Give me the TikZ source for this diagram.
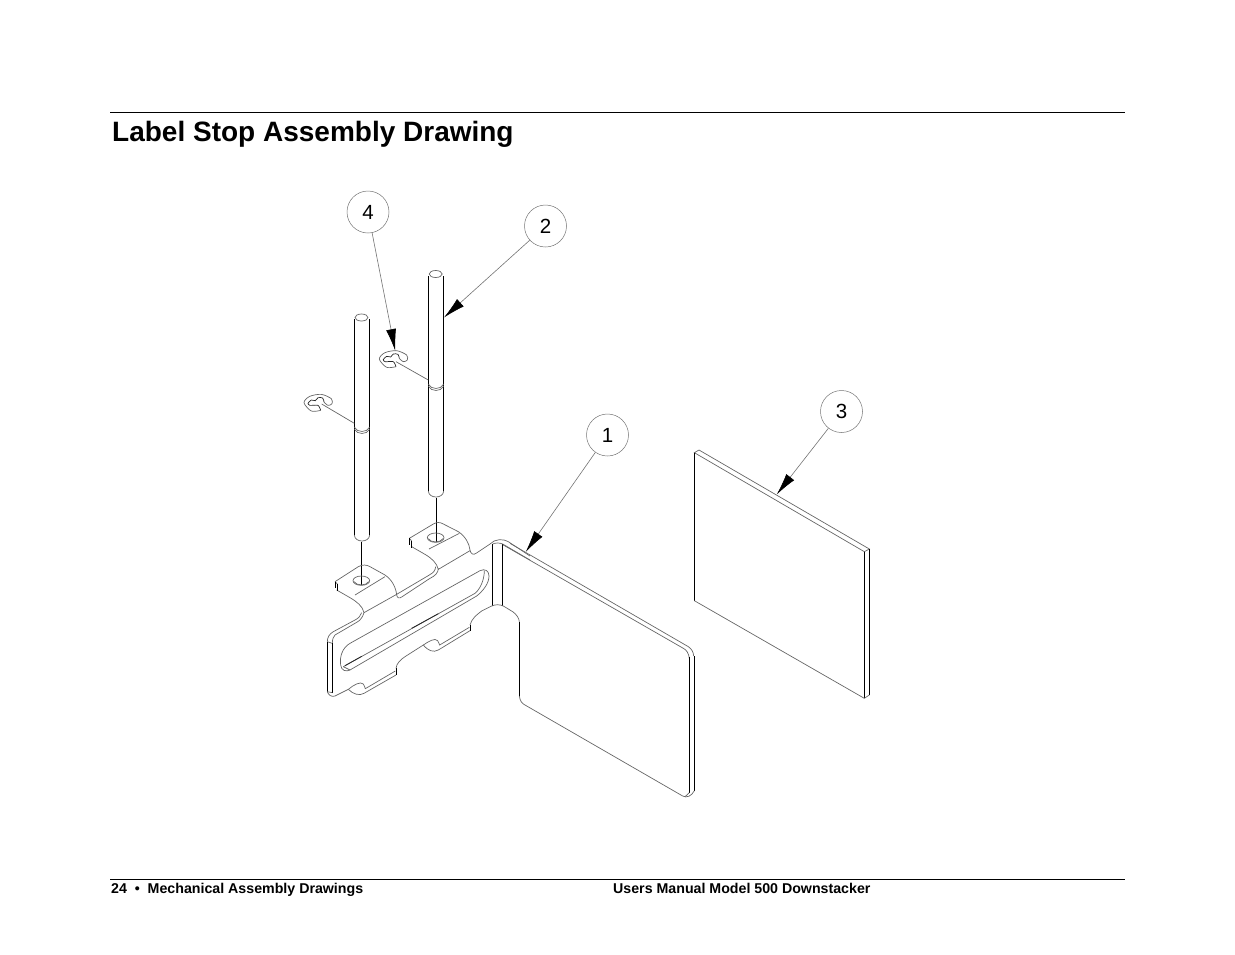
\documentclass[tikz,border=0pt]{standalone}
\usepackage{fontspec}
\setmainfont{Liberation Sans}
\usetikzlibrary{arrows.meta}
\begin{document}
\begin{tikzpicture}
        [x=1pt, y=-1pt,
        balloon/.style={circle,draw=black!55,line width=0.5pt,minimum size=42pt,inner sep=0pt,font=\fontsize{20.5}{20.5}\selectfont},
        leader/.style={draw=black!55,line width=0.6pt,-{Latex[color=black,length=22pt,width=10pt]}},
        edge/.style={black!60,line width=0.7pt},
        strong/.style={black,line width=1.1pt},
        darkedge/.style={black!85,line width=0.8pt},
        headtext/.style={anchor=base west,inner sep=0pt,font=\fontsize{28}{28}\selectfont\bfseries},
        foottext/.style={anchor=base west,inner sep=0pt,font=\fontsize{14.2}{14.2}\selectfont\bfseries},
        rulepage/.style={black,line width=0.9pt},
        clip ring/.pic={
            \draw[black!60,line width=0.7pt,scale=1/3] plot[smooth] coordinates {(8,23) (-20,25) (-42,0) (-25,-19) (10,-25) (40,-12) (42,3) (30,8) (18,-2)};
            \draw[black!85,line width=0.7pt,scale=1/3] plot[smooth] coordinates {(18,-2) (14,-14) (0,-15) (-8,-6) (-20,-8) (-30,2) (-24,8) (0,8) (8,23)};}]

        \useasboundingbox (0,0) rectangle (1235,954);

        % page rules and texts
        \coordinate (headl) at (110,112.5);
        \coordinate (headr) at (1125,112.5);
        \coordinate (footl) at (110,879);
        \coordinate (footr) at (1125,879);
        \draw[rulepage] (headl) -- (headr);
        \draw[rulepage] (footl) -- (footr);
        \node[headtext] (title) at (112,141) {Label Stop Assembly Drawing};
        \node[foottext] (chapter) at (111,893.5) {24\ \ \textbullet\ \ Mechanical Assembly Drawings};
        \node[foottext] (manual) at (613,893.5) {Users Manual Model 500 Downstacker};

        % left pin
        \draw[edge] (361.5,317.5) ellipse (6.5 and 3.5);
        \draw[strong] (354.3,319) -- (354.3,535);
        \draw[strong] (369.7,319) -- (369.7,535);
        \draw[edge] (354.3,427) .. controls (357,433) and (367,433) .. (369.7,427);
        \draw[edge] (354.3,429) .. controls (357,435) and (367,435) .. (369.7,429);
        \draw[edge] (354.3,535) .. controls (355,543) and (369,543) .. (369.7,535);
        \draw[strong,line width=0.9pt] (361.7,541.7) -- (361.7,585);

        % right pin
        \draw[edge] (435.7,274) ellipse (6.5 and 3.5);
        \draw[strong] (428.3,276) -- (428.3,491);
        \draw[strong] (443.7,276) -- (443.7,491);
        \draw[edge] (428.3,384) .. controls (431,390) and (441,390) .. (443.7,384);
        \draw[edge] (428.3,386) .. controls (431,392) and (441,392) .. (443.7,386);
        \draw[edge] (428.3,491) .. controls (429,499) and (443,499) .. (443.7,491);
        \draw[strong,line width=0.9pt] (436.7,497.5) -- (436.7,541.5);

        % clips
        \pic at (318,402.7) {clip ring};
        \pic at (393.3,359) {clip ring};
        \coordinate (clipa) at (321.7,404);
        \coordinate (clipb) at (396,361.7);
        \coordinate (pina) at (354.3,423.3);
        \coordinate (pinb) at (428.3,380);
        \draw[edge] (clipa) -- (pina);
        \draw[edge] (clipb) -- (pinb);

        % bracket, slotted part
        \begin{scope}[shift={(290,500)},scale=1/3]
        % first tab
        \draw[edge] (135,245) -- (205,200) .. controls (218,193) and (230,194) .. (240,200) -- (285,225) .. controls (305,238) and (318,262) .. (320,285);
        \draw[edge] (195,285) -- (285,230);
        \draw[edge] (140,270) -- (180,293) .. controls (200,305) and (218,318) .. (222,338);
        \draw[edge] (135,245) -- (142,252);
        \draw[strong] (137,245) -- (137,265);
        \draw[strong] (142,252) -- (142,273);
        \draw[edge] (222,338) -- (320,283) -- (418,225) .. controls (430,218) and (436,212) .. (437,200);
        \draw[edge] (320,285) .. controls (322,295) and (328,296) .. (335,291) -- (420,235) .. controls (435,228) and (445,218) .. (445,205);
        % second tab
        \draw[edge] (358,115) -- (430,72) .. controls (440,66) and (450,66) .. (460,72) -- (505,95) .. controls (525,108) and (538,130) .. (540,150);
        \draw[edge] (417,147) -- (508,100);
        \draw[edge] (365,140) -- (405,163) .. controls (425,175) and (440,188) .. (445,208) -- (540,152);
        \draw[edge] (358,115) -- (365,123);
        \draw[strong] (358,115) -- (358,135);
        \draw[strong] (365,123) -- (365,143);
        \draw[edge] (540,150) .. controls (542,162) and (550,166) .. (558,160) -- (600,132) .. controls (615,116) and (640,116) .. (655,125) -- (720,168);
        % holes
        \draw[edge] (214,242) ellipse (25 and 14);
        \draw[edge] (192,245) .. controls (200,258) and (228,258) .. (236,245);
        \draw[edge] (437,113) ellipse (25 and 14);
        \draw[edge] (415,116) .. controls (423,129) and (451,129) .. (459,116);
        % slot
        \draw[edge] (180,430) -- (570,212) .. controls (585,205) and (597,212) .. (597,228) .. controls (597,250) and (580,272) .. (560,288) -- (180,510) .. controls (168,516) and (154,512) .. (152,495) .. controls (148,470) and (158,442) .. (180,430);
        \draw[edge] (160,500) -- (555,280) .. controls (570,268) and (583,240) .. (583,212);
        \draw[edge] (160,500) -- (180,510);
        \draw[darkedge] (165,497) -- (215,469);
        \draw[darkedge] (365,385) -- (445,341);
        % upper left corner
        \draw[edge] (222,338) .. controls (218,352) and (210,362) .. (200,367) -- (135,405) .. controls (130,410) and (127,418) .. (127,430);
        \draw[edge] (215,338) .. controls (212,348) and (205,355) .. (195,360) -- (130,395) .. controls (118,402) and (112,412) .. (112,425);
        \draw[edge] (112,425) -- (127,430);
        \draw[strong] (112,425) -- (112,575);
        \draw[strong] (127,430) -- (127,578);
        % lower edge
        \draw[edge] (112,575) -- (127,578);
        \draw[edge] (112,575) .. controls (115,585) and (125,592) .. (135,588) -- (175,568);
        \draw[edge] (175,568) .. controls (190,555) and (212,543) .. (220,552) .. controls (224,558) and (224,562) .. (226,566) -- (316,513);
        \draw[edge] (175,568) .. controls (190,583) and (208,588) .. (222,580) -- (318,525);
        \draw[strong,line width=0.9pt] (318,505) -- (318,525);
        \draw[edge] (318,505) .. controls (320,490) and (330,480) .. (345,470) -- (400,435);
        \draw[edge] (400,435) .. controls (415,425) and (435,412) .. (443,422) .. controls (447,428) and (447,432) .. (449,435) -- (538,382);
        \draw[edge] (400,435) .. controls (415,453) and (430,458) .. (445,450) -- (540,392);
        \draw[strong,line width=0.9pt] (540,375) -- (540,392);
        \draw[edge] (540,375) .. controls (545,356) and (560,344) .. (575,333) -- (605,318);
        % bend
        \draw[strong] (608,132) -- (608,318);
        \draw[strong] (638,132) -- (638,318);
        \draw[edge] (605,318) .. controls (615,313) and (630,313) .. (640,318) -- (668,335) .. controls (680,343) and (687,355) .. (688,365);
        \draw[edge] (608,132) .. controls (615,128) and (630,128) .. (638,132) -- (720,180);
        \end{scope}

        % bracket, flat part
        \begin{scope}[shift={(480,530)},scale=1/3]
        \draw[edge] (90,40) -- (625,350) .. controls (635,357) and (640,365) .. (641,378);
        \draw[edge] (70,45) -- (610,355) .. controls (620,360) and (626,370) .. (628,385);
        \draw[strong] (118,275) -- (118,498);
        \draw[strong] (628,380) -- (628,788);
        \draw[strong] (643,378) -- (643,782);
        \draw[edge] (118,498) .. controls (120,512) and (125,520) .. (135,525) -- (608,798) .. controls (620,805) and (635,798) .. (643,782);
        \draw[edge] (628,788) -- (615,800);
        \end{scope}

        % label plate
        \begin{scope}[shift={(680,440)},scale=1/3]
        \draw[edge] (43,38) -- (57,30) -- (568,327) -- (553,335) -- cycle;
        \draw[strong] (43,38) -- (43,482);
        \draw[strong] (553,335) -- (553,775);
        \draw[strong] (568,327) -- (568,765);
        \draw[edge] (43,482) -- (553,775) -- (568,765);
        \end{scope}

        % balloons
        \node[balloon] (b4) at (368,212) {4};
        \node[balloon] (b2) at (545.5,226) {2};
        \node[balloon] (b1) at (607.5,435) {1};
        \node[balloon] (b3) at (841.5,411.5) {3};

        \coordinate (t4) at (395.3,351);
        \coordinate (t2) at (444,317.5);
        \coordinate (t1) at (525.7,552);
        \coordinate (t3) at (776.7,494.5);
        \draw[leader] (b4) -- (t4);
        \draw[leader] (b2) -- (t2);
        \draw[leader] (b1) -- (t1);
        \draw[leader] (b3) -- (t3);

    \end{tikzpicture}
\end{document}
